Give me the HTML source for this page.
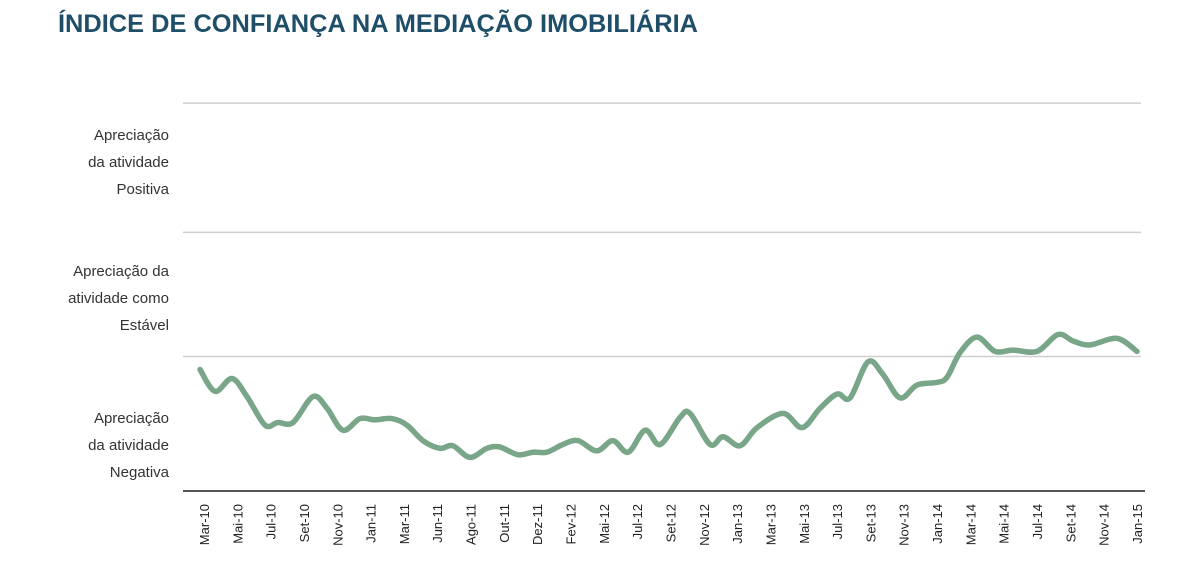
<!DOCTYPE html>
<html><head><meta charset="utf-8"><style>
html,body{margin:0;padding:0;background:#fff;width:1200px;height:587px;overflow:hidden}
svg{display:block;font-family:"Liberation Sans",sans-serif}
</style></head><body>
<svg id="chart" width="1200" height="587" viewBox="0 0 1200 587">
<text x="58" y="32" font-size="25" font-weight="bold" fill="#1f4e69" textLength="640" lengthAdjust="spacingAndGlyphs">ÍNDICE DE CONFIANÇA NA MEDIAÇÃO IMOBILIÁRIA</text>
<g id="grid"></g>
<g id="ylabels" font-size="15" fill="#333" text-anchor="end">
<text x="169" y="140"><tspan x="169">Apreciação</tspan><tspan x="169" dy="27">da atividade</tspan><tspan x="169" dy="27">Positiva</tspan></text>
<text x="169" y="276"><tspan x="169">Apreciação da</tspan><tspan x="169" dy="27">atividade como</tspan><tspan x="169" dy="27">Estável</tspan></text>
<text x="169" y="423"><tspan x="169">Apreciação</tspan><tspan x="169" dy="27">da atividade</tspan><tspan x="169" dy="27">Negativa</tspan></text>
</g>
<g id="xlabels"></g>
<path id="line" fill="none" stroke="#79a688" stroke-width="5.5" stroke-linecap="round" stroke-linejoin="round"/>
</svg>
<script>
const categories=["Mar-10","Mai-10","Jul-10","Set-10","Nov-10","Jan-11","Mar-11","Jun-11","Ago-11","Out-11","Dez-11","Fev-12","Mai-12","Jul-12","Set-12","Nov-12","Jan-13","Mar-13","Mai-13","Jul-13","Set-13","Nov-13","Jan-14","Mar-14","Mai-14","Jul-14","Set-14","Nov-14","Jan-15"];
const gridValues=[1.04,2,3];
const seriesT=[-0.12,0.33,0.84,1.29,1.83,2.22,2.67,3.27,3.69,4.17,4.68,5.13,5.64,6.09,6.57,7.08,7.47,7.98,8.49,8.88,9.42,9.87,10.29,10.77,11.22,11.79,12.27,12.73,13.24,13.69,14.29,14.59,15.19,15.58,16.09,16.6,17.38,17.95,18.49,19.0,19.39,19.93,20.38,20.89,21.4,22.0,22.3,22.69,23.2,23.74,24.28,25.0,25.63,26.08,26.59,27.4,28.0];
const seriesValues=[0.94,0.77,0.87,0.73,0.51,0.53,0.53,0.73,0.64,0.47,0.56,0.55,0.56,0.51,0.39,0.33,0.35,0.26,0.33,0.34,0.28,0.30,0.30,0.36,0.39,0.31,0.39,0.30,0.47,0.36,0.57,0.60,0.36,0.42,0.35,0.49,0.60,0.49,0.64,0.75,0.72,1.00,0.90,0.72,0.82,0.84,0.88,1.07,1.19,1.08,1.09,1.08,1.21,1.16,1.13,1.18,1.08];
const NS="http://www.w3.org/2000/svg";
const xs=t=>204+t*33.32;
const ys=v=>491-v*129.3;
const grid=document.getElementById('grid');
gridValues.forEach(v=>{
  const l=document.createElementNS(NS,'line');
  
  
  const y=ys(v);
  l.setAttribute('x1',183);l.setAttribute('x2',1141);l.setAttribute('y1',y);l.setAttribute('y2',y);
  l.setAttribute('stroke','#cfcfcf');l.setAttribute('stroke-width','1.5');
  grid.appendChild(l);
});
const ax=document.createElementNS(NS,'line');


ax.setAttribute('x1',183);ax.setAttribute('x2',1145);ax.setAttribute('y1',ys(0));ax.setAttribute('y2',ys(0));
ax.setAttribute('stroke','#555');ax.setAttribute('stroke-width','2');
grid.appendChild(ax);
const xl=document.getElementById('xlabels');
categories.forEach((c,i)=>{
  const t=document.createElementNS(NS,'text');
  
  
  const x=xs(i)+5,y=504;
  t.setAttribute('transform','translate('+x+','+y+') rotate(-90)');
  t.setAttribute('text-anchor','end');t.setAttribute('font-size','13');t.setAttribute('fill','#222');
  t.textContent=c;xl.appendChild(t);
});
const P=seriesT.map((t,i)=>[xs(t),ys(seriesValues[i])]);
let d='M'+P[0][0].toFixed(1)+','+P[0][1].toFixed(1);
for(let i=0;i<P.length-1;i++){
  const p0=P[i-1]||P[i],p1=P[i],p2=P[i+1],p3=P[i+2]||P[i+1];
  const c1=[p1[0]+(p2[0]-p0[0])/6,p1[1]+(p2[1]-p0[1])/6];
  const c2=[p2[0]-(p3[0]-p1[0])/6,p2[1]-(p3[1]-p1[1])/6];
  d+=' C'+c1[0].toFixed(1)+','+c1[1].toFixed(1)+' '+c2[0].toFixed(1)+','+c2[1].toFixed(1)+' '+p2[0].toFixed(1)+','+p2[1].toFixed(1);
}
document.getElementById('line').setAttribute('d',d);
</script>
</body></html>
